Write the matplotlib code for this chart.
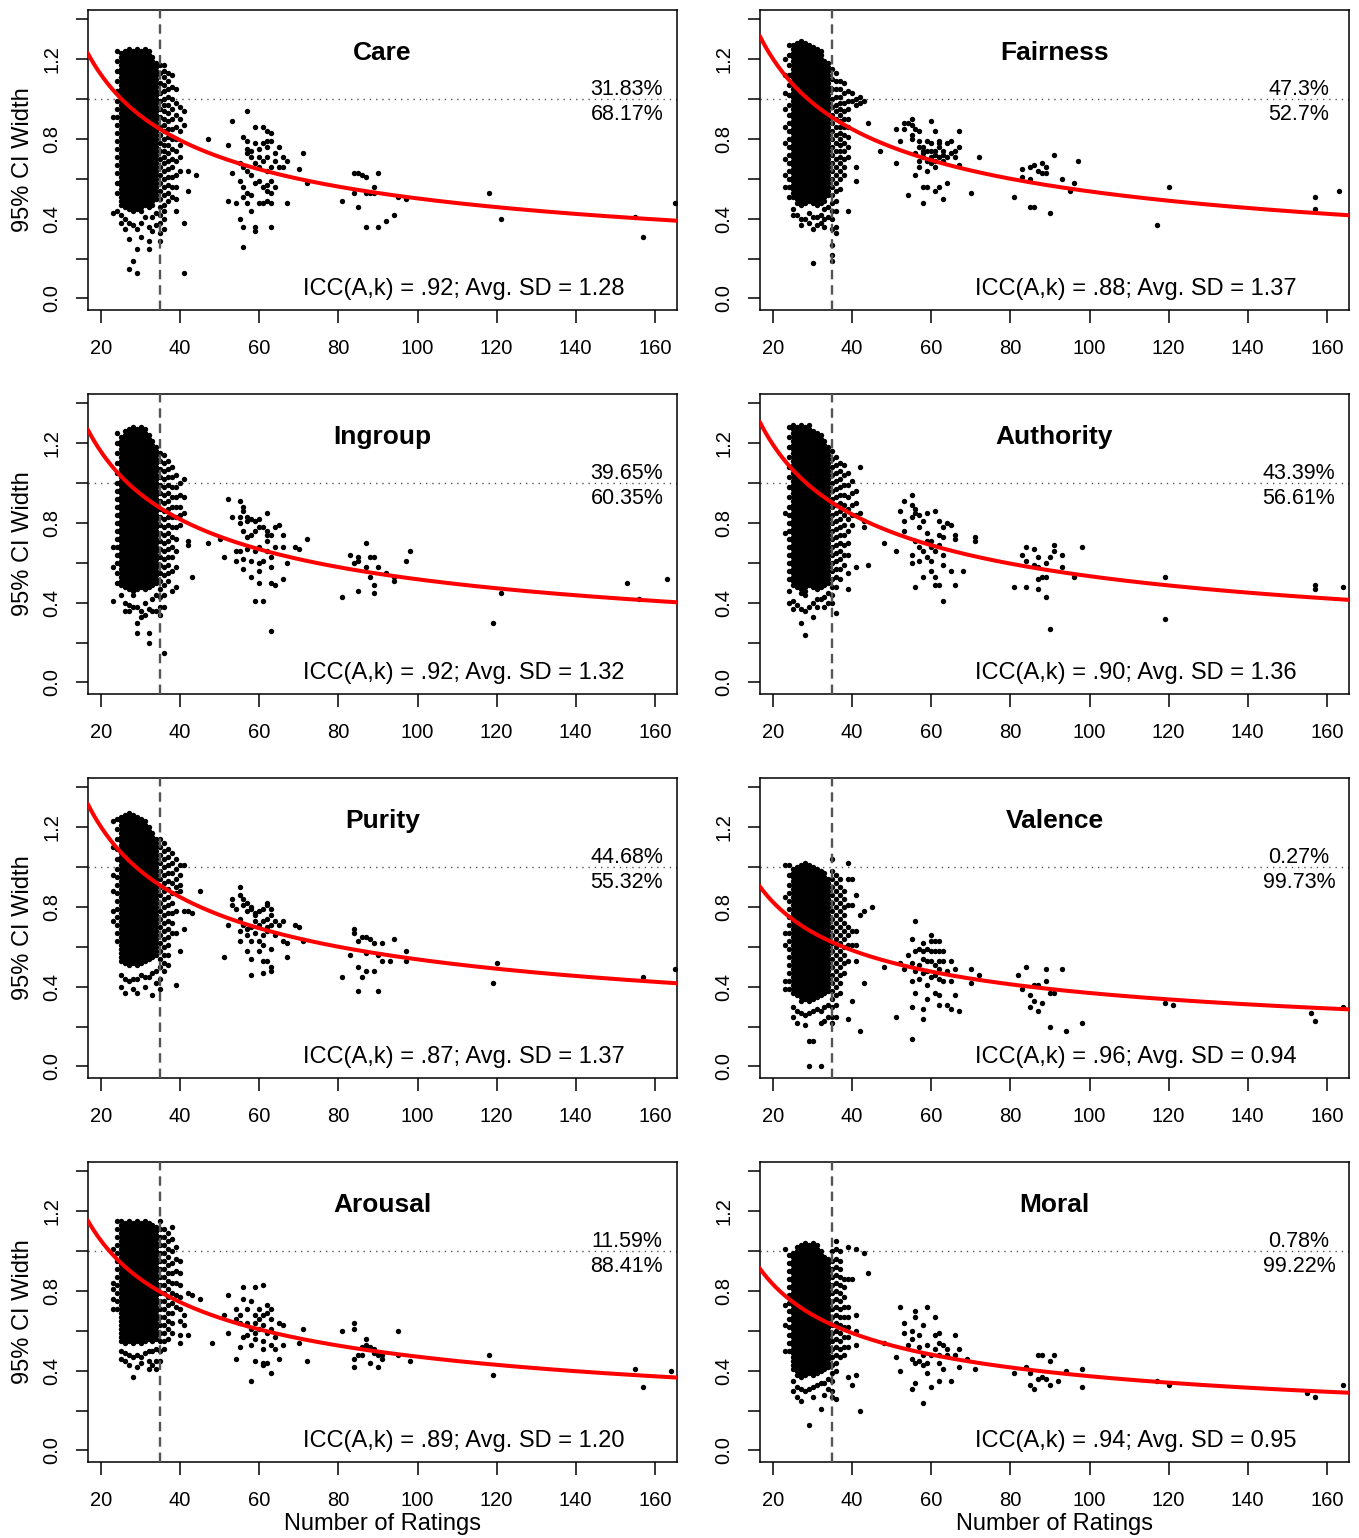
import matplotlib
matplotlib.use("Agg")
import matplotlib.pyplot as plt
import matplotlib.transforms as mtransforms
import numpy as np

plt.rcParams['font.family'] = ['Liberation Sans', 'DejaVu Sans']

# ---------------- data ----------------
panel_names = ["Care", "Fairness", "Ingroup", "Authority", "Purity", "Valence", "Arousal", "Moral"]
icc_values = [".92", ".88", ".92", ".90", ".87", ".96", ".89", ".94"]
avg_sd = [1.28, 1.37, 1.32, 1.36, 1.37, 0.94, 1.20, 0.95]
pct_above = ["31.83%", "47.3%", "39.65%", "43.39%", "44.68%", "0.27%", "11.59%", "0.78%"]
pct_below = ["68.17%", "52.7%", "60.35%", "56.61%", "55.32%", "99.73%", "88.41%", "99.22%"]
cutoff_n = 35
x_ticks = [20, 40, 60, 80, 100, 120, 140, 160]
y_ticks = [0.0, 0.2, 0.4, 0.6, 0.8, 1.0, 1.2, 1.4]
y_ticklabels = ["0.0", "", "0.4", "", "0.8", "", "1.2", ""]

# points: {number of ratings: [95% CI width * 100, ...]}
care_pts = {
    23: [91, 43],
    24: [124, 119, 114, 109, 104, 99, 95, 91, 87, 83, 79, 75, 71, 67, 63, 58, 53, 44],
    25: [123, 121, 119, 117, 115, 113, 111, 109, 107, 105, 103, 101, 99, 97, 95, 93, 91, 89, 87, 85, 83, 81, 79, 77, 75, 73, 71, 69, 67, 65, 63, 61, 59, 57, 55, 53, 51, 49, 47, 42, 38],
    26: [124, 122, 120, 118, 116, 114, 112, 110, 108, 106, 104, 102, 100, 98, 96, 94, 92, 90, 88, 86, 84, 82, 80, 78, 76, 74, 72, 70, 68, 66, 64, 62, 60, 58, 56, 54, 52, 50, 48, 46, 40, 35],
    27: [125, 123, 121, 119, 117, 115, 113, 111, 109, 107, 105, 103, 101, 99, 97, 95, 93, 91, 89, 87, 85, 83, 81, 79, 77, 75, 73, 71, 69, 67, 65, 63, 61, 59, 57, 55, 53, 51, 49, 47, 45, 38, 30, 15],
    28: [124, 122, 120, 118, 116, 114, 112, 110, 108, 106, 104, 102, 100, 98, 96, 94, 92, 90, 88, 86, 84, 82, 80, 78, 76, 74, 72, 70, 68, 66, 64, 62, 60, 58, 56, 54, 52, 50, 48, 46, 44, 37, 19],
    29: [125, 123, 121, 119, 117, 115, 113, 111, 109, 107, 105, 103, 101, 99, 97, 95, 93, 91, 89, 87, 85, 83, 81, 79, 77, 75, 73, 71, 69, 67, 65, 63, 61, 59, 57, 55, 53, 51, 49, 47, 45, 35, 25, 13],
    30: [124, 122, 120, 118, 116, 114, 112, 110, 108, 106, 104, 102, 100, 98, 96, 94, 92, 90, 88, 86, 84, 82, 80, 78, 76, 74, 72, 70, 68, 66, 64, 62, 60, 58, 56, 54, 52, 50, 48, 46, 44, 38, 31],
    31: [125, 123, 121, 119, 117, 115, 113, 111, 109, 107, 105, 103, 101, 99, 97, 95, 93, 91, 89, 87, 85, 83, 81, 79, 77, 75, 73, 71, 69, 67, 65, 63, 61, 59, 57, 55, 53, 51, 49, 47, 41],
    32: [124, 122, 120, 118, 116, 114, 112, 110, 108, 106, 104, 102, 100, 98, 96, 94, 92, 90, 88, 86, 84, 82, 80, 78, 76, 74, 72, 70, 68, 66, 64, 62, 60, 58, 56, 54, 52, 50, 48, 46, 36, 29, 25],
    33: [121, 119, 117, 115, 113, 111, 109, 107, 105, 103, 101, 99, 97, 95, 93, 91, 89, 87, 85, 83, 81, 79, 77, 75, 73, 71, 69, 67, 65, 63, 61, 59, 57, 55, 53, 51, 49, 47, 41, 34],
    34: [118, 116, 114, 112, 110, 108, 106, 104, 102, 100, 98, 96, 94, 92, 90, 88, 86, 84, 82, 80, 78, 76, 74, 72, 70, 68, 66, 64, 62, 60, 58, 56, 54, 52, 50, 43, 37],
    35: [117, 113, 108, 103, 99, 95, 91, 86, 82, 78, 74, 70, 66, 62, 58, 54, 50, 46, 42, 38, 33, 29],
    36: [117, 114, 111, 107, 104, 100, 97, 94, 90, 87, 84, 80, 77, 74, 71, 68, 64, 60, 56, 52, 47, 44, 40, 35],
    37: [113, 109, 105, 101, 97, 93, 89, 85, 81, 77, 73, 69, 65, 61, 57, 53, 49],
    38: [112, 106, 100, 95, 90, 85, 80, 75, 70, 66, 61, 56, 51],
    39: [105, 98, 92, 86, 80, 74, 69, 62, 56, 50, 44],
    40: [96, 90, 84, 77, 71, 64],
    41: [94, 87, 38, 13],
    42: [64, 54], 44: [62], 47: [80],
    52: [77, 49], 53: [89, 63], 54: [48], 55: [68, 59, 40],
    56: [81, 66, 56, 51, 36, 26], 57: [94, 79, 75, 73, 64, 53, 48],
    58: [74, 71, 62, 52, 44], 59: [86, 78, 68, 58, 36, 34],
    60: [75, 71, 66, 59, 48], 61: [86, 78, 69, 56, 48],
    62: [84, 79, 76, 71, 64, 57, 54, 49], 63: [83, 79, 66, 59, 53, 48, 36],
    64: [73, 69, 56], 65: [76, 66], 66: [71, 66], 67: [69, 48],
    70: [65], 71: [73], 72: [58],
    81: [49], 84: [63, 53], 85: [63, 46], 86: [62], 87: [61, 53, 36], 88: [53],
    89: [56, 53], 90: [63, 36], 92: [39], 94: [42], 95: [51], 97: [50],
    118: [53], 121: [40], 155: [41], 157: [31], 165: [48],
}

fairness_pts = {
    23: [120, 112, 103, 95, 86, 78, 70, 62, 56],
    24: [127, 122, 117, 112, 107, 102, 97, 92, 88, 84, 80, 76, 72, 68, 64, 60, 56, 51],
    25: [127, 125, 123, 121, 119, 117, 115, 113, 111, 109, 107, 105, 103, 101, 99, 97, 95, 93, 91, 89, 87, 85, 83, 81, 79, 77, 75, 73, 71, 69, 67, 65, 63, 61, 59, 57, 55, 53, 51, 45, 42],
    26: [128, 126, 124, 122, 120, 118, 116, 114, 112, 110, 108, 106, 104, 102, 100, 98, 96, 94, 92, 90, 88, 86, 84, 82, 80, 78, 76, 74, 72, 70, 68, 66, 64, 62, 60, 58, 56, 54, 52, 50, 48, 42],
    27: [129, 127, 125, 123, 121, 119, 117, 115, 113, 111, 109, 107, 105, 103, 101, 99, 97, 95, 93, 91, 89, 87, 85, 83, 81, 79, 77, 75, 73, 71, 69, 67, 65, 63, 61, 59, 57, 55, 53, 51, 49, 47, 40, 37],
    28: [128, 126, 124, 122, 120, 118, 116, 114, 112, 110, 108, 106, 104, 102, 100, 98, 96, 94, 92, 90, 88, 86, 84, 82, 80, 78, 76, 74, 72, 70, 68, 66, 64, 62, 60, 58, 56, 54, 52, 50, 48, 40],
    29: [127, 125, 123, 121, 119, 117, 115, 113, 111, 109, 107, 105, 103, 101, 99, 97, 95, 93, 91, 89, 87, 85, 83, 81, 79, 77, 75, 73, 71, 69, 67, 65, 63, 61, 59, 57, 55, 53, 51, 49, 43, 38],
    30: [126, 124, 122, 120, 118, 116, 114, 112, 110, 108, 106, 104, 102, 100, 98, 96, 94, 92, 90, 88, 86, 84, 82, 80, 78, 76, 74, 72, 70, 68, 66, 64, 62, 60, 58, 56, 54, 52, 50, 48, 41, 35, 18],
    31: [125, 123, 121, 119, 117, 115, 113, 111, 109, 107, 105, 103, 101, 99, 97, 95, 93, 91, 89, 87, 85, 83, 81, 79, 77, 75, 73, 71, 69, 67, 65, 63, 61, 59, 57, 55, 53, 51, 49, 47, 41, 37],
    32: [124, 122, 120, 118, 116, 114, 112, 110, 108, 106, 104, 102, 100, 98, 96, 94, 92, 90, 88, 86, 84, 82, 80, 78, 76, 74, 72, 70, 68, 66, 64, 62, 60, 58, 56, 54, 52, 50, 48, 42, 38],
    33: [119, 117, 115, 113, 111, 109, 107, 105, 103, 101, 99, 97, 95, 93, 91, 89, 87, 85, 83, 81, 79, 77, 75, 73, 71, 69, 67, 65, 63, 61, 59, 57, 55, 53, 51, 49, 45, 40, 36],
    34: [118, 116, 114, 112, 110, 108, 106, 104, 102, 100, 98, 96, 94, 92, 90, 88, 86, 84, 82, 80, 78, 76, 74, 72, 70, 68, 66, 64, 62, 60, 58, 56, 54, 52, 46, 41],
    35: [115, 110, 105, 100, 96, 92, 88, 84, 80, 76, 72, 68, 64, 60, 56, 52, 48, 44, 40, 35, 27, 22, 19],
    36: [113, 109, 105, 101, 97, 94, 90, 86, 82, 78, 74, 70, 66, 62, 58, 54, 49, 44, 36, 33],
    37: [109, 105, 101, 98, 95, 92, 89, 86, 83, 80, 77, 74, 71, 68, 64, 60, 55],
    38: [108, 103, 98, 94, 90, 86, 82, 78, 74, 70, 66, 62],
    39: [104, 99, 95, 90, 86, 81, 76, 71, 44],
    40: [103, 99], 41: [100, 97, 66, 59], 42: [101, 98], 43: [99], 44: [88], 47: [74],
    51: [85, 68], 52: [79], 53: [88, 85], 54: [88, 52], 55: [90, 87, 82, 80],
    56: [85, 73, 62], 57: [84, 79, 76, 69, 66], 58: [76, 74, 73, 71, 56, 48],
    59: [79, 74, 69, 64, 56], 60: [89, 78, 74, 71, 68], 61: [84, 74, 72, 69, 66, 54],
    62: [79, 78, 76, 71, 56], 63: [74, 72, 69, 50], 64: [78, 71, 58], 65: [79, 73],
    66: [74, 71], 67: [84, 76, 67], 70: [53], 72: [71],
    81: [51], 83: [65, 61], 85: [66, 60, 46], 86: [67, 46], 87: [64], 88: [68, 63],
    89: [66, 63], 90: [43], 91: [72], 93: [60], 95: [54], 96: [58], 97: [69],
    117: [37], 120: [56], 157: [51, 45], 163: [54],
}

ingroup_pts = {
    23: [68, 58, 41],
    24: [125, 120, 115, 110, 105, 100, 96, 92, 88, 84, 80, 76, 72, 68, 64, 60, 55, 50],
    25: [123, 121, 119, 117, 115, 113, 111, 109, 107, 105, 103, 101, 99, 97, 95, 93, 91, 89, 87, 85, 83, 81, 79, 77, 75, 73, 71, 69, 67, 65, 63, 61, 59, 57, 55, 53, 51, 49, 44],
    26: [126, 124, 122, 120, 118, 116, 114, 112, 110, 108, 106, 104, 102, 100, 98, 96, 94, 92, 90, 88, 86, 84, 82, 80, 78, 76, 74, 72, 70, 68, 66, 64, 62, 60, 58, 56, 54, 52, 50, 48, 40, 36],
    27: [127, 125, 123, 121, 119, 117, 115, 113, 111, 109, 107, 105, 103, 101, 99, 97, 95, 93, 91, 89, 87, 85, 83, 81, 79, 77, 75, 73, 71, 69, 67, 65, 63, 61, 59, 57, 55, 53, 51, 49, 47, 39, 36],
    28: [128, 126, 124, 122, 120, 118, 116, 114, 112, 110, 108, 106, 104, 102, 100, 98, 96, 94, 92, 90, 88, 86, 84, 82, 80, 78, 76, 74, 72, 70, 68, 66, 64, 62, 60, 58, 56, 54, 52, 50, 48, 46, 44, 38],
    29: [127, 125, 123, 121, 119, 117, 115, 113, 111, 109, 107, 105, 103, 101, 99, 97, 95, 93, 91, 89, 87, 85, 83, 81, 79, 77, 75, 73, 71, 69, 67, 65, 63, 61, 59, 57, 55, 53, 51, 49, 47, 38, 30, 25],
    30: [128, 126, 124, 122, 120, 118, 116, 114, 112, 110, 108, 106, 104, 102, 100, 98, 96, 94, 92, 90, 88, 86, 84, 82, 80, 78, 76, 74, 72, 70, 68, 66, 64, 62, 60, 58, 56, 54, 52, 50, 48, 36, 33],
    31: [127, 125, 123, 121, 119, 117, 115, 113, 111, 109, 107, 105, 103, 101, 99, 97, 95, 93, 91, 89, 87, 85, 83, 81, 79, 77, 75, 73, 71, 69, 67, 65, 63, 61, 59, 57, 55, 53, 51, 49, 47, 40, 34],
    32: [124, 122, 120, 118, 116, 114, 112, 110, 108, 106, 104, 102, 100, 98, 96, 94, 92, 90, 88, 86, 84, 82, 80, 78, 76, 74, 72, 70, 68, 66, 64, 62, 60, 58, 56, 54, 52, 50, 48, 37, 25, 20],
    33: [121, 119, 117, 115, 113, 111, 109, 107, 105, 103, 101, 99, 97, 95, 93, 91, 89, 87, 85, 83, 81, 79, 77, 75, 73, 71, 69, 67, 65, 63, 61, 59, 57, 55, 53, 51, 49, 42, 36],
    34: [118, 116, 114, 112, 110, 108, 106, 104, 102, 100, 98, 96, 94, 92, 90, 88, 86, 84, 82, 80, 78, 76, 74, 72, 70, 68, 66, 64, 62, 60, 58, 56, 54, 52, 50, 44, 36],
    35: [115, 111, 107, 103, 99, 95, 91, 87, 83, 79, 75, 71, 67, 63, 59, 55, 51, 47, 43, 38, 34],
    36: [114, 110, 106, 102, 98, 94, 90, 86, 82, 78, 74, 70, 66, 62, 58, 54, 49, 44, 38, 15],
    37: [111, 107, 103, 99, 95, 91, 87, 83, 79, 75, 71, 67, 63, 59, 55, 51],
    38: [108, 103, 98, 93, 88, 83, 78, 73, 68, 63, 56, 46],
    39: [104, 98, 93, 88, 83, 78, 72, 66, 58, 48],
    40: [100, 94, 88, 84, 79], 41: [102, 93, 85], 42: [71, 69], 43: [53], 47: [70],
    50: [72], 51: [63], 52: [92], 53: [83], 54: [66, 61], 55: [91, 83, 80, 66],
    56: [88, 86, 76, 62, 57], 57: [83, 81, 73, 67], 58: [82, 74, 61, 53],
    59: [81, 76, 66, 41], 60: [82, 78, 68, 60, 56, 50], 61: [78, 61, 41],
    62: [85, 76, 74, 71, 66], 63: [74, 63, 58, 50, 26], 64: [78, 68, 49], 65: [79],
    66: [74, 68, 52], 67: [60], 69: [68], 70: [67], 72: [72],
    81: [43], 83: [64], 84: [60], 85: [63, 61, 46], 87: [70, 58], 88: [63, 53],
    89: [63, 49, 45], 90: [58], 92: [55], 94: [53, 51], 97: [61], 98: [66],
    119: [30], 121: [45], 153: [50], 156: [42], 163: [52],
}

authority_pts = {
    23: [85, 75],
    24: [128, 123, 118, 113, 108, 103, 98, 93, 88, 84, 80, 76, 72, 68, 64, 60, 56, 52, 46, 40],
    25: [129, 127, 125, 123, 121, 119, 117, 115, 113, 111, 109, 107, 105, 103, 101, 99, 97, 95, 93, 91, 89, 87, 85, 83, 81, 79, 77, 75, 73, 71, 69, 67, 65, 63, 61, 59, 57, 55, 53, 51, 49, 41, 37],
    26: [128, 126, 124, 122, 120, 118, 116, 114, 112, 110, 108, 106, 104, 102, 100, 98, 96, 94, 92, 90, 88, 86, 84, 82, 80, 78, 76, 74, 72, 70, 68, 66, 64, 62, 60, 58, 56, 54, 52, 50, 48, 39],
    27: [129, 127, 125, 123, 121, 119, 117, 115, 113, 111, 109, 107, 105, 103, 101, 99, 97, 95, 93, 91, 89, 87, 85, 83, 81, 79, 77, 75, 73, 71, 69, 67, 65, 63, 61, 59, 57, 55, 53, 51, 49, 47, 45, 37, 30],
    28: [128, 126, 124, 122, 120, 118, 116, 114, 112, 110, 108, 106, 104, 102, 100, 98, 96, 94, 92, 90, 88, 86, 84, 82, 80, 78, 76, 74, 72, 70, 68, 66, 64, 62, 60, 58, 56, 54, 52, 50, 48, 46, 44, 36, 24],
    29: [129, 127, 125, 123, 121, 119, 117, 115, 113, 111, 109, 107, 105, 103, 101, 99, 97, 95, 93, 91, 89, 87, 85, 83, 81, 79, 77, 75, 73, 71, 69, 67, 65, 63, 61, 59, 57, 55, 53, 51, 49, 38],
    30: [126, 124, 122, 120, 118, 116, 114, 112, 110, 108, 106, 104, 102, 100, 98, 96, 94, 92, 90, 88, 86, 84, 82, 80, 78, 76, 74, 72, 70, 68, 66, 64, 62, 60, 58, 56, 54, 52, 50, 48, 40, 33],
    31: [125, 123, 121, 119, 117, 115, 113, 111, 109, 107, 105, 103, 101, 99, 97, 95, 93, 91, 89, 87, 85, 83, 81, 79, 77, 75, 73, 71, 69, 67, 65, 63, 61, 59, 57, 55, 53, 51, 49, 47, 42, 38],
    32: [124, 122, 120, 118, 116, 114, 112, 110, 108, 106, 104, 102, 100, 98, 96, 94, 92, 90, 88, 86, 84, 82, 80, 78, 76, 74, 72, 70, 68, 66, 64, 62, 60, 58, 56, 54, 52, 50, 48, 42],
    33: [121, 119, 117, 115, 113, 111, 109, 107, 105, 103, 101, 99, 97, 95, 93, 91, 89, 87, 85, 83, 81, 79, 77, 75, 73, 71, 69, 67, 65, 63, 61, 59, 57, 55, 53, 51, 49, 43, 38],
    34: [118, 116, 114, 112, 110, 108, 106, 104, 102, 100, 98, 96, 94, 92, 90, 88, 86, 84, 82, 80, 78, 76, 74, 72, 70, 68, 66, 64, 62, 60, 58, 56, 54, 52, 50, 45, 40],
    35: [116, 112, 108, 104, 100, 96, 92, 88, 84, 80, 76, 72, 68, 64, 60, 56, 52, 48, 44, 40],
    36: [113, 109, 105, 101, 97, 93, 89, 85, 81, 77, 73, 69, 65, 61, 57, 53, 48, 35],
    37: [110, 106, 102, 98, 94, 90, 86, 82, 78, 74, 70, 66, 62, 57, 52],
    38: [109, 104, 99, 94, 89, 84, 79, 74, 69, 64, 59],
    39: [105, 99, 93, 87, 82, 76, 70, 64, 55, 47],
    40: [101, 95, 89, 84, 79], 41: [96, 90, 84, 58], 42: [108, 85], 43: [81, 78], 44: [59],
    48: [70], 51: [66], 52: [86], 53: [91, 81, 76], 55: [94, 89, 83, 64, 60],
    56: [87, 85, 71, 48], 57: [84, 78, 68, 61], 58: [81, 66, 53], 59: [85, 75, 71, 63],
    60: [71, 68, 61, 56], 61: [86, 66, 53, 49], 62: [81, 74, 69, 49],
    63: [78, 73, 64, 59, 41], 64: [80], 65: [79, 56], 66: [74, 72, 49], 68: [56], 71: [73, 71],
    81: [48], 83: [64], 84: [68, 61, 48], 86: [67, 59], 87: [63, 58, 52, 47], 88: [53],
    89: [60, 53, 43], 90: [63, 27], 91: [69, 66], 93: [64, 58], 96: [53], 98: [68],
    119: [53, 32], 157: [49, 47], 164: [48],
}

purity_pts = {
    23: [123, 110, 96, 88, 78, 73],
    24: [124, 119, 114, 109, 104, 99, 95, 91, 87, 83, 79, 75, 71, 67, 63],
    25: [125, 123, 121, 119, 117, 115, 113, 111, 109, 107, 105, 103, 101, 99, 97, 95, 93, 91, 89, 87, 85, 83, 81, 79, 77, 75, 73, 71, 69, 67, 65, 63, 61, 59, 57, 55, 53, 46, 40],
    26: [126, 124, 122, 120, 118, 116, 114, 112, 110, 108, 106, 104, 102, 100, 98, 96, 94, 92, 90, 88, 86, 84, 82, 80, 78, 76, 74, 72, 70, 68, 66, 64, 62, 60, 58, 56, 54, 52, 44, 37],
    27: [127, 125, 123, 121, 119, 117, 115, 113, 111, 109, 107, 105, 103, 101, 99, 97, 95, 93, 91, 89, 87, 85, 83, 81, 79, 77, 75, 73, 71, 69, 67, 65, 63, 61, 59, 57, 55, 53, 51, 43],
    28: [126, 124, 122, 120, 118, 116, 114, 112, 110, 108, 106, 104, 102, 100, 98, 96, 94, 92, 90, 88, 86, 84, 82, 80, 78, 76, 74, 72, 70, 68, 66, 64, 62, 60, 58, 56, 54, 52, 44, 39],
    29: [125, 123, 121, 119, 117, 115, 113, 111, 109, 107, 105, 103, 101, 99, 97, 95, 93, 91, 89, 87, 85, 83, 81, 79, 77, 75, 73, 71, 69, 67, 65, 63, 61, 59, 57, 55, 53, 51, 44, 37],
    30: [124, 122, 120, 118, 116, 114, 112, 110, 108, 106, 104, 102, 100, 98, 96, 94, 92, 90, 88, 86, 84, 82, 80, 78, 76, 74, 72, 70, 68, 66, 64, 62, 60, 58, 56, 54, 52, 46],
    31: [123, 121, 119, 117, 115, 113, 111, 109, 107, 105, 103, 101, 99, 97, 95, 93, 91, 89, 87, 85, 83, 81, 79, 77, 75, 73, 71, 69, 67, 65, 63, 61, 59, 57, 55, 53, 45, 40],
    32: [120, 118, 116, 114, 112, 110, 108, 106, 104, 102, 100, 98, 96, 94, 92, 90, 88, 86, 84, 82, 80, 78, 76, 74, 72, 70, 68, 66, 64, 62, 60, 58, 56, 54, 45],
    33: [117, 115, 113, 111, 109, 107, 105, 103, 101, 99, 97, 95, 93, 91, 89, 87, 85, 83, 81, 79, 77, 75, 73, 71, 69, 67, 65, 63, 61, 59, 57, 55, 47, 36],
    34: [114, 112, 110, 108, 106, 104, 102, 100, 98, 96, 94, 92, 90, 88, 86, 84, 82, 80, 78, 76, 74, 72, 70, 68, 66, 64, 62, 60, 58, 56, 48, 42],
    35: [114, 110, 106, 102, 98, 94, 90, 86, 82, 78, 74, 70, 66, 62, 58, 54, 50, 44, 39],
    36: [112, 108, 104, 100, 96, 92, 88, 84, 80, 76, 72, 68, 64, 60, 56, 52, 48],
    37: [109, 105, 101, 97, 93, 89, 85, 81, 77, 73, 69, 65, 61, 56, 51],
    38: [107, 102, 97, 92, 87, 82, 77, 72, 67],
    39: [104, 99, 94, 90, 87, 78, 67, 41],
    40: [101, 96, 91, 88, 58], 41: [101, 78, 69], 42: [78], 43: [77], 45: [88],
    51: [55], 52: [71], 53: [84, 81], 54: [79], 55: [90, 86, 74, 68, 63],
    56: [84, 81, 71], 57: [82, 78, 69, 66, 58], 58: [80, 79, 70, 63, 54, 46],
    59: [77, 76, 73, 67], 60: [78, 71, 63, 58], 61: [79, 73, 66, 61, 53, 47],
    62: [82, 81, 74, 70, 68, 53], 63: [79, 76, 71, 59, 50, 48], 64: [73, 66], 65: [71],
    66: [73, 63], 67: [62, 55], 69: [71], 70: [70], 71: [63],
    81: [45], 83: [56], 84: [69, 67], 85: [63, 50, 38], 86: [65, 45], 87: [65, 57, 48],
    88: [64], 89: [62, 48], 90: [56, 38], 91: [62, 53], 93: [53], 94: [64], 97: [58, 53],
    119: [42], 120: [52], 157: [45], 165: [49],
}

valence_pts = {
    23: [101, 85, 67, 61, 43, 39],
    24: [101, 96, 91, 87, 83, 79, 75, 71, 67, 63, 59, 55, 51, 47, 43, 39],
    25: [99, 97, 95, 93, 91, 89, 87, 85, 83, 81, 79, 77, 75, 73, 71, 69, 67, 65, 63, 61, 59, 57, 55, 53, 51, 49, 47, 45, 43, 41, 39, 37, 30, 25],
    26: [100, 98, 96, 94, 92, 90, 88, 86, 84, 82, 80, 78, 76, 74, 72, 70, 68, 66, 64, 62, 60, 58, 56, 54, 52, 50, 48, 46, 44, 42, 40, 38, 36, 28, 22],
    27: [101, 99, 97, 95, 93, 91, 89, 87, 85, 83, 81, 79, 77, 75, 73, 71, 69, 67, 65, 63, 61, 59, 57, 55, 53, 51, 49, 47, 45, 43, 41, 39, 37, 35, 33, 27],
    28: [102, 100, 98, 96, 94, 92, 90, 88, 86, 84, 82, 80, 78, 76, 74, 72, 70, 68, 66, 64, 62, 60, 58, 56, 54, 52, 50, 48, 46, 44, 42, 40, 38, 36, 34, 26, 21],
    29: [101, 99, 97, 95, 93, 91, 89, 87, 85, 83, 81, 79, 77, 75, 73, 71, 69, 67, 65, 63, 61, 59, 57, 55, 53, 51, 49, 47, 45, 43, 41, 39, 37, 35, 33, 27, 13, 0],
    30: [100, 98, 96, 94, 92, 90, 88, 86, 84, 82, 80, 78, 76, 74, 72, 70, 68, 66, 64, 62, 60, 58, 56, 54, 52, 50, 48, 46, 44, 42, 40, 38, 36, 34, 28, 13],
    31: [99, 97, 95, 93, 91, 89, 87, 85, 83, 81, 79, 77, 75, 73, 71, 69, 67, 65, 63, 61, 59, 57, 55, 53, 51, 49, 47, 45, 43, 41, 39, 37, 35, 29],
    32: [98, 96, 94, 92, 90, 88, 86, 84, 82, 80, 78, 76, 74, 72, 70, 68, 66, 64, 62, 60, 58, 56, 54, 52, 50, 48, 46, 44, 42, 40, 38, 36, 28, 22, 0],
    33: [97, 95, 93, 91, 89, 87, 85, 83, 81, 79, 77, 75, 73, 71, 69, 67, 65, 63, 61, 59, 57, 55, 53, 51, 49, 47, 45, 43, 41, 39, 37, 30, 23],
    34: [94, 92, 90, 88, 86, 84, 82, 80, 78, 76, 74, 72, 70, 68, 66, 64, 62, 60, 58, 56, 54, 52, 50, 48, 46, 44, 42, 40, 38, 31, 25],
    35: [104, 98, 94, 90, 86, 82, 78, 74, 70, 66, 62, 58, 54, 50, 46, 42, 38, 34, 30, 25, 22],
    36: [96, 92, 88, 84, 80, 76, 72, 68, 64, 60, 56, 52, 48, 44, 40, 36, 31, 25],
    37: [94, 90, 86, 82, 78, 74, 70, 66, 62, 58, 54, 50, 46, 42, 37],
    38: [88, 84, 80, 76, 72, 68, 64, 60, 56, 52, 47],
    39: [102, 94, 81, 70, 66, 61, 53, 24],
    40: [94, 81, 68, 61, 33], 41: [86, 68, 61, 53], 42: [76, 18], 43: [78, 42], 45: [80],
    48: [50], 51: [25], 52: [52], 53: [49], 54: [56], 55: [64, 52, 43, 30, 14],
    56: [73, 58, 48, 37], 57: [59, 51, 44], 58: [62, 58, 54, 47, 29, 24],
    59: [59, 53, 48, 41, 34], 60: [66, 63, 58, 53, 45], 61: [63, 58, 51, 46, 37],
    62: [63, 58, 53, 49, 44, 36, 31], 63: [58, 53, 43], 64: [48, 31], 65: [53, 43, 29],
    66: [49, 36], 67: [28], 70: [49, 42], 72: [46],
    82: [46], 83: [39], 84: [50], 85: [36, 30], 86: [41, 33], 87: [41, 28], 88: [32],
    89: [49, 43], 90: [37, 20], 91: [37], 93: [49], 94: [18], 98: [22],
    119: [32], 121: [31], 156: [27], 157: [23], 164: [30],
}

arousal_pts = {
    23: [101, 84, 81, 76, 71],
    24: [115, 111, 107, 103, 99, 95, 91, 87, 83, 79, 75, 71],
    25: [115, 113, 111, 109, 107, 105, 103, 101, 99, 97, 95, 93, 91, 89, 87, 85, 83, 81, 79, 77, 75, 73, 71, 69, 67, 65, 63, 61, 59, 57, 55, 50, 46],
    26: [114, 112, 110, 108, 106, 104, 102, 100, 98, 96, 94, 92, 90, 88, 86, 84, 82, 80, 78, 76, 74, 72, 70, 68, 66, 64, 62, 60, 58, 56, 54, 49, 45],
    27: [115, 113, 111, 109, 107, 105, 103, 101, 99, 97, 95, 93, 91, 89, 87, 85, 83, 81, 79, 77, 75, 73, 71, 69, 67, 65, 63, 61, 59, 57, 55, 48, 43],
    28: [114, 112, 110, 108, 106, 104, 102, 100, 98, 96, 94, 92, 90, 88, 86, 84, 82, 80, 78, 76, 74, 72, 70, 68, 66, 64, 62, 60, 58, 56, 54, 47, 37],
    29: [115, 113, 111, 109, 107, 105, 103, 101, 99, 97, 95, 93, 91, 89, 87, 85, 83, 81, 79, 77, 75, 73, 71, 69, 67, 65, 63, 61, 59, 57, 55, 48, 42],
    30: [114, 112, 110, 108, 106, 104, 102, 100, 98, 96, 94, 92, 90, 88, 86, 84, 82, 80, 78, 76, 74, 72, 70, 68, 66, 64, 62, 60, 58, 56, 54, 47, 44],
    31: [115, 113, 111, 109, 107, 105, 103, 101, 99, 97, 95, 93, 91, 89, 87, 85, 83, 81, 79, 77, 75, 73, 71, 69, 67, 65, 63, 61, 59, 57, 55, 49],
    32: [114, 112, 110, 108, 106, 104, 102, 100, 98, 96, 94, 92, 90, 88, 86, 84, 82, 80, 78, 76, 74, 72, 70, 68, 66, 64, 62, 60, 58, 56, 50, 45, 41],
    33: [113, 111, 109, 107, 105, 103, 101, 99, 97, 95, 93, 91, 89, 87, 85, 83, 81, 79, 77, 75, 73, 71, 69, 67, 65, 63, 61, 59, 57, 55, 50, 43],
    34: [112, 110, 108, 106, 104, 102, 100, 98, 96, 94, 92, 90, 88, 86, 84, 82, 80, 78, 76, 74, 72, 70, 68, 66, 64, 62, 60, 58, 56, 51, 45, 41],
    35: [115, 111, 107, 103, 99, 95, 91, 87, 83, 79, 75, 71, 67, 63, 59, 55, 50, 45],
    36: [111, 107, 103, 99, 95, 91, 87, 83, 79, 75, 71, 67, 63, 59, 55, 51],
    37: [109, 105, 101, 97, 93, 89, 85, 81, 77, 73, 69, 65, 61, 56],
    38: [112, 106, 100, 94, 89, 84, 79, 74, 69, 64, 59],
    39: [102, 96, 90, 84, 78, 72],
    40: [95, 89, 83, 77, 71, 65, 58, 54], 41: [68, 63], 42: [79, 58], 43: [78], 45: [76],
    48: [54], 51: [68], 52: [78, 59], 54: [71, 66, 46], 55: [68, 64, 52], 56: [82, 76, 57],
    57: [71, 64, 63, 58], 58: [75, 61, 53, 35], 59: [82, 68, 64, 59, 56, 45],
    60: [71, 66, 61], 61: [83, 68, 63, 55, 51, 44, 43], 62: [73, 69, 59, 44],
    63: [71, 66, 61, 53, 39], 64: [57, 51], 65: [64, 46], 66: [63, 53],
    70: [54], 71: [61], 72: [45],
    81: [60], 84: [64, 61, 46, 42], 85: [48], 86: [52, 48], 87: [56, 53], 88: [52, 44],
    89: [51, 49], 90: [48, 42], 91: [48, 46], 95: [60, 48], 98: [45],
    118: [48], 119: [38], 155: [41], 157: [32], 164: [40],
}

moral_pts = {
    23: [101, 73, 63, 50],
    24: [98, 94, 90, 86, 82, 78, 74, 70, 66, 62, 58, 54, 50],
    25: [99, 97, 95, 93, 91, 89, 87, 85, 83, 81, 79, 77, 75, 73, 71, 69, 67, 65, 63, 61, 59, 57, 55, 53, 51, 49, 47, 45, 43, 41, 35, 30],
    26: [102, 100, 98, 96, 94, 92, 90, 88, 86, 84, 82, 80, 78, 76, 74, 72, 70, 68, 66, 64, 62, 60, 58, 56, 54, 52, 50, 48, 46, 44, 42, 40, 38, 32, 27],
    27: [103, 101, 99, 97, 95, 93, 91, 89, 87, 85, 83, 81, 79, 77, 75, 73, 71, 69, 67, 65, 63, 61, 59, 57, 55, 53, 51, 49, 47, 45, 43, 41, 39, 37, 31, 25],
    28: [104, 102, 100, 98, 96, 94, 92, 90, 88, 86, 84, 82, 80, 78, 76, 74, 72, 70, 68, 66, 64, 62, 60, 58, 56, 54, 52, 50, 48, 46, 44, 42, 40, 38, 30],
    29: [103, 101, 99, 97, 95, 93, 91, 89, 87, 85, 83, 81, 79, 77, 75, 73, 71, 69, 67, 65, 63, 61, 59, 57, 55, 53, 51, 49, 47, 45, 43, 41, 39, 31, 13],
    30: [104, 102, 100, 98, 96, 94, 92, 90, 88, 86, 84, 82, 80, 78, 76, 74, 72, 70, 68, 66, 64, 62, 60, 58, 56, 54, 52, 50, 48, 46, 44, 42, 40, 38, 32, 27],
    31: [103, 101, 99, 97, 95, 93, 91, 89, 87, 85, 83, 81, 79, 77, 75, 73, 71, 69, 67, 65, 63, 61, 59, 57, 55, 53, 51, 49, 47, 45, 43, 41, 39, 33],
    32: [100, 98, 96, 94, 92, 90, 88, 86, 84, 82, 80, 78, 76, 74, 72, 70, 68, 66, 64, 62, 60, 58, 56, 54, 52, 50, 48, 46, 44, 42, 40, 34, 21],
    33: [97, 95, 93, 91, 89, 87, 85, 83, 81, 79, 77, 75, 73, 71, 69, 67, 65, 63, 61, 59, 57, 55, 53, 51, 49, 47, 45, 43, 41, 34, 28],
    34: [96, 94, 92, 90, 88, 86, 84, 82, 80, 78, 76, 74, 72, 70, 68, 66, 64, 62, 60, 58, 56, 54, 52, 50, 48, 46, 44, 42, 36, 31],
    35: [100, 95, 91, 87, 83, 79, 75, 71, 67, 63, 59, 55, 51, 47, 43, 39, 35, 30, 27],
    36: [105, 101, 96, 92, 88, 84, 80, 76, 72, 68, 64, 60, 56, 52, 48, 44, 40, 26],
    37: [100, 95, 91, 87, 83, 79, 75, 71, 67, 63, 59, 55, 51, 47],
    38: [86, 82, 77, 72, 67, 62, 57, 52, 48],
    39: [102, 86, 72, 67, 62, 57, 52, 37],
    40: [86, 33], 41: [101, 68, 60, 53, 38], 42: [20], 43: [99], 44: [89],
    48: [54], 51: [47], 52: [72, 40], 53: [64, 59], 54: [53], 55: [60, 56, 46, 31],
    56: [70, 67, 44, 34], 57: [58, 52, 45], 58: [63, 48, 43, 24], 59: [72, 53, 44, 39],
    60: [48, 32], 61: [67, 58, 51], 62: [59, 54, 48, 44, 35], 63: [53, 41], 64: [51, 48],
    65: [35], 66: [58, 48], 67: [51, 42], 69: [46], 71: [41],
    81: [39], 84: [42], 85: [39, 33], 86: [31], 87: [48, 36], 88: [48, 37], 89: [36],
    90: [45, 33], 91: [48], 92: [35], 94: [40], 98: [41, 32],
    117: [35], 120: [33], 155: [29], 157: [27], 164: [33],
}

panel_points = [care_pts, fairness_pts, ingroup_pts, authority_pts,
                purity_pts, valence_pts, arousal_pts, moral_pts]

# ---------------- figure ----------------
W, H = 1359, 1538
fig = plt.figure(figsize=(W / 100, H / 100), dpi=100)
col_left = [88, 760]
row_top = [10, 394, 778, 1162]
ax_w, ax_h = 589, 300
xlim = (16.7, 165.6)
ylim = (-0.058, 1.447)

for i, name in enumerate(panel_names):
    r, c = divmod(i, 2)
    ax = fig.add_axes([col_left[c] / W, 1 - (row_top[r] + ax_h) / H, ax_w / W, ax_h / H])
    pts = panel_points[i]
    xs = [x for x, yl in pts.items() for _ in yl]
    ys = [v / 100 for x, yl in pts.items() for v in yl]

    ax.axhline(1.0, color='#555555', lw=1.0, ls=(0, (1, 3.5)), zorder=1)
    ax.scatter(xs, ys, s=15, c='black', linewidths=0, zorder=2)
    ax.axvline(cutoff_n, color='#555555', lw=1.7, ls=(0, (4, 2.5)), zorder=3)
    n = np.linspace(xlim[0], xlim[1], 400)
    ax.plot(n, 2 * 1.96 * avg_sd[i] / np.sqrt(n), color='red', lw=2.9, zorder=4)

    ax.set_xlim(*xlim)
    ax.set_ylim(*ylim)
    ax.set_xticks(x_ticks)
    ax.set_xticklabels([str(t) for t in x_ticks])
    ax.set_yticks(y_ticks)
    ax.set_yticklabels(y_ticklabels)
    ax.tick_params(axis='both', direction='out', length=9, width=1.1, labelsize=14.5, colors='black')
    ax.tick_params(axis='x', pad=12)
    ax.tick_params(axis='y', pad=10, labelrotation=90)
    for lab in ax.get_yticklabels():
        lab.set_va('center')
    for sp in ax.spines.values():
        sp.set_linewidth(1.1)
        sp.set_color('black')

    ax.text(0.5, 0.833, name, transform=ax.transAxes, ha='center', va='baseline',
            fontsize=19, fontweight='bold')
    ax.text(0.6375, 0.05, f"ICC(A,k) = {icc_values[i]}; Avg. SD = {avg_sd[i]:.2f}",
            transform=ax.transAxes, ha='center', va='baseline', fontsize=17)
    trans = mtransforms.blended_transform_factory(ax.transAxes, ax.transData)
    ax.text(0.915, 1.02, pct_above[i], transform=trans, ha='center', va='baseline', fontsize=15.5)
    ax.text(0.915, 0.893, pct_below[i], transform=trans, ha='center', va='baseline', fontsize=15.5)

for r in range(4):
    fig.text(23 / W, 1 - (row_top[r] + ax_h / 2) / H, "95% CI Width", rotation=90,
             ha='center', va='center', fontsize=17)
for c in range(2):
    fig.text((col_left[c] + ax_w / 2) / W, 1 - 1524 / H, "Number of Ratings",
             ha='center', va='center', fontsize=17)

fig.savefig("out.png", dpi=100)
